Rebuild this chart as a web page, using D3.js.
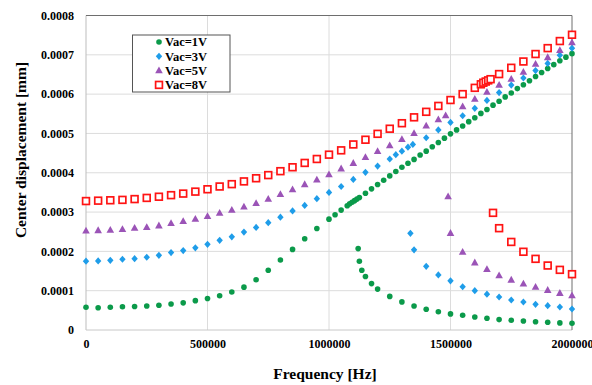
<!DOCTYPE html>
<html><head><meta charset="utf-8">
<script src="https://cdn.jsdelivr.net/npm/d3@7"></script>
<style>
html,body{margin:0;padding:0;background:#fff;}
svg{display:block;}
text{font-family:"Liberation Serif","Times New Roman",serif;font-weight:bold;fill:#000;}
</style></head>
<body>
<svg id="chart" width="592" height="385"></svg>
<script>
// ---------------- DATA ----------------
const seriesNames = ["Vac=1V", "Vac=3V", "Vac=5V", "Vac=8V"];
const xTickValues = [0, 500000, 1000000, 1500000, 2000000];
const xTickLabels = ["0", "500000", "1000000", "1500000", "2000000"];
const yTickValues = [0, 0.0001, 0.0002, 0.0003, 0.0004, 0.0005, 0.0006, 0.0007, 0.0008];
const yTickLabels = ["0", "0.0001", "0.0002", "0.0003", "0.0004", "0.0005", "0.0006", "0.0007", "0.0008"];

// Vac = 1V (frequency in Hz, displacement in mm)
const freq1 = [0,50000,100000,150000,200000,250000,300000,350000,400000,450000,500000,550000,600000,650000,700000,750000,800000,850000,900000,950000,1000000,1025000,1050000,1075000,1085000,1095000,1105000,1115000,1125000,
  1150000,1175000,1200000,1225000,1250000,1275000,1300000,1325000,1350000,1375000,1400000,1425000,1450000,1475000,1500000,1525000,1550000,1575000,1600000,1625000,1650000,1675000,1700000,1725000,1750000,1775000,1800000,1825000,1850000,1875000,1900000,1925000,1950000,1975000,2000000,
  1120000,1125000,1135000,1150000,1175000,1200000,1250000,1300000,1350000,1400000,1450000,1500000,1550000,1600000,1650000,1700000,1750000,1800000,1850000,1900000,1950000,2000000];
const disp1 = [0.0000578,0.0000567,0.0000578,0.0000593,0.0000596,0.000061,0.000063,0.000066,0.000069,0.0000746,0.00008,0.0000873,0.0000967,0.000109,0.000128,0.000152,0.000178,0.000205,0.000232,0.000258,0.000282,0.000293,0.000305,0.000316,0.000321,0.000325,0.000329,0.000333,0.000337,
  0.000348,0.000359,0.00037,0.000381,0.000392,0.000403,0.000414,0.000424,0.000434,0.000445,0.000455,0.000466,0.000477,0.000488,0.000499,0.000509,0.000519,0.00053,0.00054,0.000551,0.000561,0.000572,0.000582,0.000593,0.000603,0.000614,0.000624,0.000634,0.000645,0.000655,0.000665,0.000675,0.000685,0.000694,0.000703,
  0.000207,0.000175,0.000152,0.000136,0.000118,0.000104,0.0000855,0.0000715,0.0000611,0.0000527,0.0000466,0.000041,0.0000374,0.0000331,0.0000298,0.0000265,0.0000247,0.0000229,0.0000211,0.0000196,0.000018,0.000017];

// Vac = 3V
const freq3 = [0,50000,100000,150000,200000,250000,300000,350000,400000,450000,500000,550000,600000,650000,700000,750000,800000,850000,900000,950000,1000000,1050000,1100000,1150000,1200000,1250000,1275000,1300000,1325000,1345000,1400000,1450000,1500000,1550000,1600000,1650000,1700000,1750000,1800000,1850000,1900000,1950000,2000000,
  1335000,1350000,1400000,1450000,1500000,1550000,1600000,1650000,1700000,1750000,1800000,1850000,1900000,1950000,2000000];
const disp3 = [0.000175,0.0001756,0.0001773,0.00018,0.0001814,0.000185,0.00019,0.000197,0.000202,0.000209,0.000218,0.000228,0.000237,0.000249,0.000261,0.000273,0.000287,0.000303,0.000317,0.000334,0.00035,0.000365,0.000383,0.000401,0.000417,0.000435,0.000446,0.000455,0.000465,0.000472,0.000489,0.000509,0.000528,0.000545,0.000564,0.000584,0.000604,0.000623,0.000641,0.00066,0.000678,0.000699,0.000717,
  0.000246,0.000204,0.000162,0.00014,0.000125,0.00011,0.0001,0.0000912,0.000084,0.0000763,0.0000712,0.0000654,0.0000618,0.0000585,0.0000534];

// Vac = 5V
const freq5 = [0,50000,100000,150000,200000,250000,300000,350000,400000,450000,500000,550000,600000,650000,700000,750000,800000,850000,900000,950000,1000000,1050000,1100000,1150000,1200000,1250000,1300000,1350000,1400000,1450000,1480000,1550000,1600000,1650000,1700000,1750000,1800000,1850000,1900000,1950000,2000000,
  1490000,1500000,1550000,1600000,1650000,1700000,1750000,1800000,1850000,1900000,1950000,2000000];
const disp5 = [0.000252,0.000253,0.000254,0.000256,0.000259,0.000261,0.000265,0.000271,0.000276,0.000282,0.000289,0.000297,0.000305,0.000313,0.000322,0.000333,0.000345,0.000357,0.00037,0.000382,0.000395,0.00041,0.000424,0.000439,0.000454,0.000469,0.000485,0.0005,0.000519,0.000535,0.000545,0.000568,0.000587,0.000605,0.000623,0.000638,0.000656,0.000676,0.000693,0.000711,0.000731,
  0.000339,0.000246,0.000198,0.000171,0.000154,0.000138,0.000127,0.000117,0.000109,0.000101,0.0000934,0.0000873];

// Vac = 8V
const freq8 = [0,50000,100000,150000,200000,250000,300000,350000,400000,450000,500000,550000,600000,650000,700000,750000,800000,850000,900000,950000,1000000,1050000,1100000,1150000,1200000,1250000,1300000,1350000,1400000,1450000,1500000,1550000,1600000,1625000,1635000,1645000,1655000,1665000,1700000,1750000,1800000,1850000,1900000,1950000,2000000,
  1675000,1700000,1750000,1800000,1850000,1900000,1950000,2000000];
const disp8 = [0.000328,0.000329,0.00033,0.000331,0.000333,0.000336,0.000339,0.000343,0.000347,0.000352,0.000358,0.000365,0.000371,0.000378,0.000386,0.000394,0.000404,0.000414,0.000425,0.000435,0.000446,0.000457,0.000472,0.000484,0.000499,0.000512,0.000526,0.000541,0.000555,0.00057,0.000585,0.0006,0.000616,0.000625,0.000629,0.000632,0.000635,0.000638,0.000651,0.000667,0.000683,0.000702,0.000717,0.000735,0.000751,
  0.000298,0.000259,0.000224,0.000199,0.000181,0.000164,0.000153,0.000142];

// ---------------- CHART ----------------
const W = 592, H = 385;
const M = {left: 86, right: 20, top: 15.5, bottom: 55};
const svg = d3.select("#chart");
const x = d3.scaleLinear().domain([0, 2000000]).range([M.left, W - M.right]);
const y = d3.scaleLinear().domain([0, 0.0008]).range([H - M.bottom, M.top]);

// gridlines
svg.append("g").selectAll("line.gy").data(yTickValues.slice(1, -1)).join("line")
  .attr("x1", M.left).attr("x2", W - M.right)
  .attr("y1", d => y(d)).attr("y2", d => y(d))
  .attr("stroke", "#dcdcdc").attr("stroke-width", 1);
svg.append("g").selectAll("line.gx").data(xTickValues.slice(1, -1)).join("line")
  .attr("y1", M.top).attr("y2", H - M.bottom)
  .attr("x1", d => x(d)).attr("x2", d => x(d))
  .attr("stroke", "#dcdcdc").attr("stroke-width", 1);

// frame: left and bottom light, top and right darker
svg.append("line").attr("x1", M.left).attr("x2", M.left).attr("y1", M.top).attr("y2", H - M.bottom).attr("stroke", "#bdbdbd");
svg.append("line").attr("x1", M.left).attr("x2", W - M.right).attr("y1", H - M.bottom).attr("y2", H - M.bottom).attr("stroke", "#c8c8c8");
svg.append("line").attr("x1", M.left).attr("x2", W - M.right).attr("y1", M.top).attr("y2", M.top).attr("stroke", "#6e6e6e");
svg.append("line").attr("x1", W - M.right).attr("x2", W - M.right).attr("y1", M.top).attr("y2", H - M.bottom).attr("stroke", "#6e6e6e");

// axes (labels only)
const xAxis = d3.axisBottom(x).tickValues(xTickValues).tickFormat((d, i) => xTickLabels[i]).tickSize(0).tickPadding(9);
const gx = svg.append("g").attr("transform", `translate(0,${H - M.bottom})`).call(xAxis);
gx.select(".domain").remove();
gx.selectAll("text").attr("font-size", 12).attr("font-family", "Liberation Serif").attr("font-weight", "bold").attr("fill", "#000");

const yAxis = d3.axisLeft(y).tickValues(yTickValues).tickFormat((d, i) => yTickLabels[i]).tickSize(0).tickPadding(12);
const gy = svg.append("g").attr("transform", `translate(${M.left},0)`).call(yAxis);
gy.select(".domain").remove();
gy.selectAll("text").attr("font-size", 12).attr("font-family", "Liberation Serif").attr("font-weight", "bold").attr("fill", "#000");

// axis titles
svg.append("text").attr("x", 325).attr("y", 379).attr("text-anchor", "middle")
  .attr("font-size", 15.5).text("Frequency [Hz]");
svg.append("text").attr("transform", "translate(25.5,150) rotate(-90)").attr("text-anchor", "middle")
  .attr("font-size", 15.5).text("Center displacement [mm]");

// series
const series = [
  {name: seriesNames[0], f: freq1, v: disp1, type: "circle", color: "#0b9a4a"},
  {name: seriesNames[1], f: freq3, v: disp3, type: "diamond", color: "#1f9de9"},
  {name: seriesNames[2], f: freq5, v: disp5, type: "triangle", color: "#9b54b7"},
  {name: seriesNames[3], f: freq8, v: disp8, type: "square", color: "#ff1414"}
];
function drawMarker(g, type, color) {
  if (type === "circle") {
    g.append("circle").attr("r", 2.8).attr("fill", color);
  } else if (type === "diamond") {
    g.append("path").attr("d", "M0,-3.6L3.2,0L0,3.6L-3.2,0Z").attr("fill", color);
  } else if (type === "triangle") {
    g.append("path").attr("d", "M0,-4.2L3.8,2.6L-3.8,2.6Z").attr("fill", color);
  } else {
    g.append("rect").attr("x", -3.4).attr("y", -3.4).attr("width", 6.8).attr("height", 6.8)
      .attr("fill", "#fff").attr("stroke", color).attr("stroke-width", 1.7);
  }
}
series.forEach(s => {
  const g = svg.append("g");
  const pts = s.f.map((f, i) => [f, s.v[i]]);
  g.selectAll("g").data(pts).join("g")
    .attr("transform", d => `translate(${x(d[0])},${y(d[1])})`)
    .each(function() { drawMarker(d3.select(this), s.type, s.color); });
});

// legend
const lg = svg.append("g");
lg.append("rect").attr("x", 132.5).attr("y", 35).attr("width", 97.5).attr("height", 57)
  .attr("fill", "#fff").attr("stroke", "#555").attr("stroke-width", 1);
series.forEach((s, i) => {
  const yy = 42 + i * 14.3;
  const m = lg.append("g").attr("transform", `translate(159,${yy})`);
  drawMarker(m, s.type, s.color);
  lg.append("text").attr("x", 165).attr("y", yy + 4.3).attr("font-size", 12.5).text(s.name);
});
</script>
</body></html>
